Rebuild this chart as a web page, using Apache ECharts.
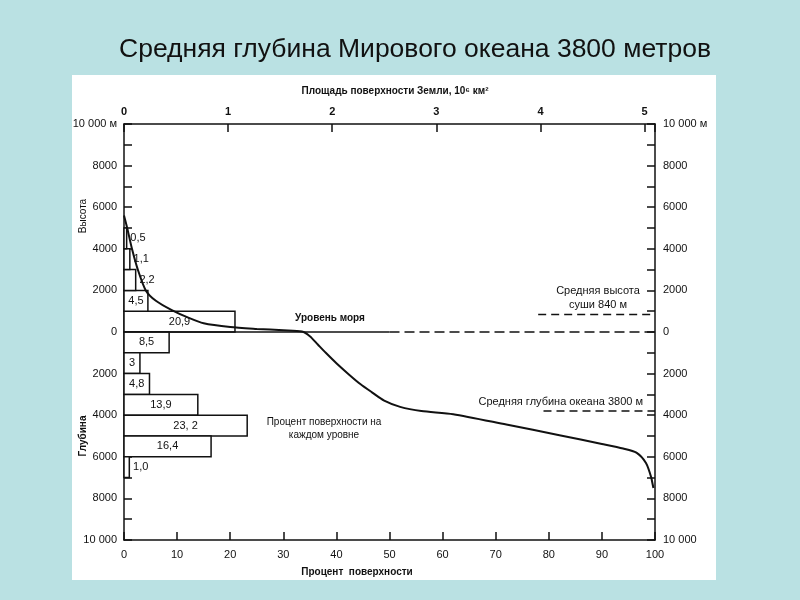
<!DOCTYPE html>
<html>
<head>
<meta charset="utf-8">
<script src="https://cdn.jsdelivr.net/npm/echarts@6/dist/echarts.min.js"></script>
<style>
html,body{margin:0;padding:0;background:#bae1e3;}
#c{width:800px;height:600px;}
</style>
</head>
<body>
<div id="c"></div>
<script>
// ---- data ----
const landLevels = [[0,1000],[1000,2000],[2000,3000],[3000,4000],[4000,5000]];
const landPct = [20.9, 4.5, 2.2, 1.1, 0.5];
const landLabels = ['20,9','4,5','2,2','1,1','0,5'];
const oceanLevels = [[0,-1000],[-1000,-2000],[-2000,-3000],[-3000,-4000],[-4000,-5000],[-5000,-6000],[-6000,-7000]];
const oceanPct = [8.5, 3, 4.8, 13.9, 23.2, 16.4, 1.0];
const oceanLabels = ['8,5','3','4,8','13,9','23, 2','16,4','1,0'];
const curvePct  = [0, 0.6, 1.5, 2.6, 4.1, 6, 9, 12, 15, 20, 25, 30, 33.5, 35, 36.5, 38, 40, 42.4, 44.5, 46.7, 49, 52, 56, 62, 72, 82, 90, 94, 96.5, 98.3, 99.3, 99.7];
const curveElev = [5600, 5000, 4000, 3000, 2000, 1500, 1050, 700, 420, 240, 150, 80, 20, -200, -600, -1000, -1500, -2050, -2500, -2900, -3300, -3600, -3800, -3950, -4450, -4960, -5380, -5600, -5800, -6300, -7000, -7500];
const meanLandHeight = 840;
const meanOceanDepth = -3800;
const earthAreaMax = 5.1;
const topTicks = [0,1,2,3,4,5];

const FONT = 'Liberation Sans, Arial, sans-serif';
const INK = '#111';

const barData = [];
landLevels.forEach((l,i)=>barData.push([l[0],l[1],landPct[i],landLabels[i]]));
oceanLevels.forEach((l,i)=>barData.push([l[0],l[1],oceanPct[i],oceanLabels[i]]));

function yFmt(v){
  if (v % 2000 !== 0) return '';
  if (v === 10000) return '10 000 м';
  if (v === -10000) return '10 000';
  return String(Math.abs(v));
}

const chart = echarts.init(document.getElementById('c'));
const axisCommon = {
  axisLine:{show:true,onZero:false,lineStyle:{color:INK,width:1.5}},
  axisTick:{show:true,inside:true,length:8,lineStyle:{color:INK,width:1.5}},
  splitLine:{show:false},
  axisLabel:{color:INK,fontFamily:FONT,fontSize:11}
};
chart.setOption({
  animation:false,
  backgroundColor:'#bae1e3',
  title:{text:'Средняя глубина Мирового океана 3800 метров',left:114,top:31,
    textStyle:{fontFamily:FONT,fontSize:26.5,fontWeight:'normal',color:'#111'}},
  graphic:[
    {type:'rect',z:-10,shape:{x:72,y:75,width:644,height:505},style:{fill:'#ffffff'}},
    {type:'text',x:395,y:91,style:{text:'Площадь поверхности Земли, 10⁶ км²',font:'bold 10px '+FONT,fill:INK,textAlign:'center',textVerticalAlign:'middle'}},
    {type:'text',x:357,y:572,style:{text:'Процент  поверхности',font:'bold 10px '+FONT,fill:INK,textAlign:'center',textVerticalAlign:'middle'}},
    {type:'text',x:83,y:216,rotation:Math.PI/2,style:{text:'Высота',font:'10px '+FONT,fill:INK,textAlign:'center',textVerticalAlign:'middle'}},
    {type:'text',x:83,y:436,rotation:Math.PI/2,style:{text:'Глубина',font:'bold 10px '+FONT,fill:INK,textAlign:'center',textVerticalAlign:'middle'}},
    {type:'text',x:330,y:318,style:{text:'Уровень моря',font:'bold 10px '+FONT,fill:INK,textAlign:'center',textVerticalAlign:'middle'}},
    {type:'text',x:598,y:291,style:{text:'Средняя высота',font:'11px '+FONT,fill:INK,textAlign:'center',textVerticalAlign:'middle'}},
    {type:'text',x:598,y:305,style:{text:'суши 840 м',font:'11px '+FONT,fill:INK,textAlign:'center',textVerticalAlign:'middle'}},
    {type:'text',x:643,y:402,style:{text:'Средняя глубина океана 3800 м',font:'11px '+FONT,fill:INK,textAlign:'right',textVerticalAlign:'middle'}},
    {type:'text',x:324,y:422,style:{text:'Процент поверхности на',font:'10px '+FONT,fill:INK,textAlign:'center',textVerticalAlign:'middle'}},
    {type:'text',x:324,y:435,style:{text:'каждом уровне',font:'10px '+FONT,fill:INK,textAlign:'center',textVerticalAlign:'middle'}}
  ],
  grid:{left:124,right:145,top:124,bottom:60},
  xAxis:[
    Object.assign({},axisCommon,{type:'value',position:'bottom',min:0,max:100,interval:10,
      axisLabel:Object.assign({},axisCommon.axisLabel,{margin:9})}),
    Object.assign({},axisCommon,{type:'value',position:'top',min:0,max:earthAreaMax,interval:1,
      axisLabel:Object.assign({},axisCommon.axisLabel,{margin:7,fontWeight:'bold',
        formatter:v=>topTicks.indexOf(v)>=0?String(v):''})})
  ],
  yAxis:[
    Object.assign({},axisCommon,{type:'value',position:'left',min:-10000,max:10000,interval:1000,
      axisLabel:Object.assign({},axisCommon.axisLabel,{margin:7,formatter:yFmt})}),
    Object.assign({},axisCommon,{type:'value',position:'right',min:-10000,max:10000,interval:1000,
      axisLabel:Object.assign({},axisCommon.axisLabel,{margin:8,formatter:yFmt})})
  ],
  series:[
    {
      type:'custom',xAxisIndex:0,yAxisIndex:0,
      data:barData,
      renderItem:function(params,api){
        const y0=api.value(0), y1=api.value(1), p=api.value(2);
        const lab=barData[params.dataIndex][3];
        const a=api.coord([0,y0]), b=api.coord([p,y1]);
        const top=Math.min(a[1],b[1]), h=Math.abs(b[1]-a[1]);
        let tx, align;
        if (p < 2.5){ tx=api.coord([p+0.7,0])[0]; align='left'; }
        else { tx=api.coord([p/2,0])[0]; align='center'; }
        return {type:'group',children:[
          {type:'rect',shape:{x:a[0],y:top,width:b[0]-a[0],height:h},
            style:{fill:'#fff',stroke:INK,lineWidth:1.5}},
          {type:'text',x:tx,y:top+h/2,style:{text:lab,font:'11px '+FONT,fill:INK,textAlign:align,textVerticalAlign:'middle'}}
        ]};
      },
      z:2
    },
    {
      type:'line',xAxisIndex:0,yAxisIndex:0,smooth:0.25,showSymbol:false,
      lineStyle:{color:INK,width:2},
      data:curvePct.map((p,i)=>[p,curveElev[i]]),z:3
    },
    {
      type:'line',xAxisIndex:0,yAxisIndex:0,showSymbol:false,
      lineStyle:{color:INK,width:1.5},
      data:[[0,0],[50,0]],z:3
    },
    {
      type:'line',xAxisIndex:0,yAxisIndex:0,showSymbol:false,
      lineStyle:{color:INK,width:1.5,type:[10,5]},
      data:[[50,0],[100,0]],z:3
    },
    {
      type:'line',xAxisIndex:0,yAxisIndex:0,showSymbol:false,
      lineStyle:{color:INK,width:1.5,type:[8,5]},
      data:[[78,meanLandHeight],[100,meanLandHeight]],z:3
    },
    {
      type:'line',xAxisIndex:0,yAxisIndex:0,showSymbol:false,
      lineStyle:{color:INK,width:1.5,type:[8,5]},
      data:[[79,meanOceanDepth],[100,meanOceanDepth]],z:3
    }
  ]
});
</script>
</body>
</html>
